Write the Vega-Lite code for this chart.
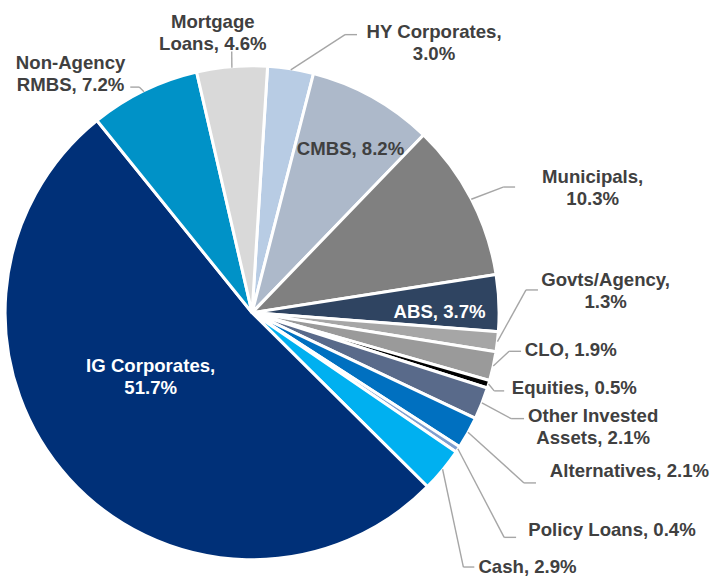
{
  "$schema": "https://vega.github.io/schema/vega-lite/v6.json",
  "width": 710,
  "height": 577,
  "autosize": {"type": "fit", "contains": "padding"},
  "padding": 0,
  "background": "white",
  "config": {
    "view": {"stroke": null},
    "axis": {"disable": true},
    "text": {"font": "Liberation Sans", "fontWeight": "bold", "fontSize": 18.6, "color": "#404040", "lineBreak": "\n", "lineHeight": 22, "align": "center", "baseline": "middle"},
    "rule": {"color": "#a6a6a6", "strokeWidth": 1.4}
  },
  "data": {
    "values": [
      {"category": "HY Corporates", "value": 3.0, "order": 1, "label": "HY Corporates,\n3.0%"},
      {"category": "CMBS", "value": 8.2, "order": 2, "label": "CMBS, 8.2%"},
      {"category": "Municipals", "value": 10.3, "order": 3, "label": "Municipals,\n10.3%"},
      {"category": "ABS", "value": 3.7, "order": 4, "label": "ABS, 3.7%"},
      {"category": "Govts/Agency", "value": 1.3, "order": 5, "label": "Govts/Agency,\n1.3%"},
      {"category": "CLO", "value": 1.9, "order": 6, "label": "CLO, 1.9%"},
      {"category": "Equities", "value": 0.5, "order": 7, "label": "Equities, 0.5%"},
      {"category": "Other Invested Assets", "value": 2.1, "order": 8, "label": "Other Invested\nAssets, 2.1%"},
      {"category": "Alternatives", "value": 2.1, "order": 9, "label": "Alternatives, 2.1%"},
      {"category": "Policy Loans", "value": 0.4, "order": 10, "label": "Policy Loans, 0.4%"},
      {"category": "Cash", "value": 2.9, "order": 11, "label": "Cash, 2.9%"},
      {"category": "IG Corporates", "value": 51.7, "order": 12, "label": "IG Corporates,\n51.7%"},
      {"category": "Non-Agency RMBS", "value": 7.2, "order": 13, "label": "Non-Agency\nRMBS, 7.2%"},
      {"category": "Mortgage Loans", "value": 4.6, "order": 14, "label": "Mortgage\nLoans, 4.6%"}
    ]
  },
  "transform": [
    {"window": [{"op": "sum", "field": "value", "as": "cumEnd"}], "sort": [{"field": "order"}], "frame": [null, 0]},
    {"calculate": "0.06283 + 2*PI*(datum.cumEnd - datum.value/2)/99.9", "as": "midAngle"},
    {"calculate": "1.01*sin(datum.midAngle)", "as": "edgeX"},
    {"calculate": "1.01*cos(datum.midAngle)", "as": "edgeY"}
  ],
  "layer": [
    {
      "mark": {"type": "arc", "radius": 247, "stroke": "white", "strokeWidth": 3},
      "encoding": {
        "x": {"datum": 0, "type": "quantitative", "scale": {"domain": [-1.0142, 1.872], "nice": false, "zero": false}},
        "y": {"datum": 0, "type": "quantitative", "scale": {"domain": [-1.061, 1.2846], "nice": false, "zero": false}},
        "theta": {"field": "value", "type": "quantitative", "stack": true, "scale": {"range": [0.06283, 6.34602]}},
        "order": {"field": "order", "type": "quantitative"},
        "color": {
          "field": "category", "type": "nominal", "legend": null,
          "scale": {
            "domain": ["HY Corporates", "CMBS", "Municipals", "ABS", "Govts/Agency", "CLO", "Equities", "Other Invested Assets", "Alternatives", "Policy Loans", "Cash", "IG Corporates", "Non-Agency RMBS", "Mortgage Loans"],
            "range": ["#b8cce4", "#adb9ca", "#808080", "#2f4461", "#a6a6a6", "#9a9a9a", "#000000", "#596a8a", "#0070c0", "#7f9fcf", "#00b0f0", "#003078", "#0092c7", "#d9d9d9"]
          }
        }
      }
    },
    {"transform": [{"filter": "datum.category == 'Mortgage Loans'"}], "mark": "rule", "encoding": {"x": {"field": "edgeX", "type": "quantitative"}, "y": {"field": "edgeY", "type": "quantitative"}, "x2": {"datum": -0.0833}, "y2": {"datum": 1.0732}}},
    {"transform": [{"filter": "datum.category == 'Non-Agency RMBS'"}], "mark": "rule", "encoding": {"x": {"field": "edgeX", "type": "quantitative"}, "y": {"field": "edgeY", "type": "quantitative"}, "x2": {"datum": -0.4614}, "y2": {"datum": 0.9268}}},
    {"transform": [{"filter": "datum.category == 'Non-Agency RMBS'"}], "mark": "rule", "encoding": {"x": {"datum": -0.4614}, "y": {"datum": 0.9268}, "x2": {"datum": -0.498}, "y2": {"datum": 0.9268}}},
    {"transform": [{"filter": "datum.category == 'HY Corporates'"}], "mark": "rule", "encoding": {"x": {"field": "edgeX", "type": "quantitative"}, "y": {"field": "edgeY", "type": "quantitative"}, "x2": {"datum": 0.3801}, "y2": {"datum": 1.1423}}},
    {"transform": [{"filter": "datum.category == 'HY Corporates'"}], "mark": "rule", "encoding": {"x": {"datum": 0.3801}, "y": {"datum": 1.1423}, "x2": {"datum": 0.4289}, "y2": {"datum": 1.1423}}},
    {"transform": [{"filter": "datum.category == 'Municipals'"}], "mark": "rule", "encoding": {"x": {"field": "edgeX", "type": "quantitative"}, "y": {"field": "edgeY", "type": "quantitative"}, "x2": {"datum": 1.0264}, "y2": {"datum": 0.5163}}},
    {"transform": [{"filter": "datum.category == 'Municipals'"}], "mark": "rule", "encoding": {"x": {"datum": 1.0264}, "y": {"datum": 0.5163}, "x2": {"datum": 1.0752}, "y2": {"datum": 0.5163}}},
    {"transform": [{"filter": "datum.category == 'Govts/Agency'"}], "mark": "rule", "encoding": {"x": {"field": "edgeX", "type": "quantitative"}, "y": {"field": "edgeY", "type": "quantitative"}, "x2": {"datum": 1.1199}, "y2": {"datum": 0.0935}}},
    {"transform": [{"filter": "datum.category == 'Govts/Agency'"}], "mark": "rule", "encoding": {"x": {"datum": 1.1199}, "y": {"datum": 0.0935}, "x2": {"datum": 1.1687}, "y2": {"datum": 0.0935}}},
    {"transform": [{"filter": "datum.category == 'CLO'"}], "mark": "rule", "encoding": {"x": {"field": "edgeX", "type": "quantitative"}, "y": {"field": "edgeY", "type": "quantitative"}, "x2": {"datum": 1.0508}, "y2": {"datum": -0.1585}}},
    {"transform": [{"filter": "datum.category == 'CLO'"}], "mark": "rule", "encoding": {"x": {"datum": 1.0508}, "y": {"datum": -0.1585}, "x2": {"datum": 1.0996}, "y2": {"datum": -0.1585}}},
    {"transform": [{"filter": "datum.category == 'Equities'"}], "mark": "rule", "encoding": {"x": {"field": "edgeX", "type": "quantitative"}, "y": {"field": "edgeY", "type": "quantitative"}, "x2": {"datum": 0.9898}, "y2": {"datum": -0.3211}}},
    {"transform": [{"filter": "datum.category == 'Equities'"}], "mark": "rule", "encoding": {"x": {"datum": 0.9898}, "y": {"datum": -0.3211}, "x2": {"datum": 1.0305}, "y2": {"datum": -0.3211}}},
    {"transform": [{"filter": "datum.category == 'Other Invested Assets'"}], "mark": "rule", "encoding": {"x": {"field": "edgeX", "type": "quantitative"}, "y": {"field": "edgeY", "type": "quantitative"}, "x2": {"datum": 1.0589}, "y2": {"datum": -0.435}}},
    {"transform": [{"filter": "datum.category == 'Other Invested Assets'"}], "mark": "rule", "encoding": {"x": {"datum": 1.0589}, "y": {"datum": -0.435}, "x2": {"datum": 1.1118}, "y2": {"datum": -0.435}}},
    {"transform": [{"filter": "datum.category == 'Alternatives'"}], "mark": "rule", "encoding": {"x": {"field": "edgeX", "type": "quantitative"}, "y": {"field": "edgeY", "type": "quantitative"}, "x2": {"datum": 1.1118}, "y2": {"datum": -0.6992}}},
    {"transform": [{"filter": "datum.category == 'Alternatives'"}], "mark": "rule", "encoding": {"x": {"datum": 1.1118}, "y": {"datum": -0.6992}, "x2": {"datum": 1.1606}, "y2": {"datum": -0.6992}}},
    {"transform": [{"filter": "datum.category == 'Policy Loans'"}], "mark": "rule", "encoding": {"x": {"field": "edgeX", "type": "quantitative"}, "y": {"field": "edgeY", "type": "quantitative"}, "x2": {"datum": 1.0305}, "y2": {"datum": -0.9228}}},
    {"transform": [{"filter": "datum.category == 'Policy Loans'"}], "mark": "rule", "encoding": {"x": {"datum": 1.0305}, "y": {"datum": -0.9228}, "x2": {"datum": 1.0793}, "y2": {"datum": -0.9228}}},
    {"transform": [{"filter": "datum.category == 'Cash'"}], "mark": "rule", "encoding": {"x": {"field": "edgeX", "type": "quantitative"}, "y": {"field": "edgeY", "type": "quantitative"}, "x2": {"datum": 0.8638}, "y2": {"datum": -1.0447}}},
    {"transform": [{"filter": "datum.category == 'Cash'"}], "mark": "rule", "encoding": {"x": {"datum": 0.8638}, "y": {"datum": -1.0447}, "x2": {"datum": 0.9085}, "y2": {"datum": -1.0447}}},
    {"transform": [{"filter": "datum.category == 'Mortgage Loans'"}], "mark": "text", "encoding": {"x": {"datum": -0.1606}, "y": {"datum": 1.1931}, "text": {"field": "label"}}},
    {"transform": [{"filter": "datum.category == 'Non-Agency RMBS'"}], "mark": "text", "encoding": {"x": {"datum": -0.7419}, "y": {"datum": 1.0264}, "text": {"field": "label"}}},
    {"transform": [{"filter": "datum.category == 'HY Corporates'"}], "mark": "text", "encoding": {"x": {"datum": 0.7439}, "y": {"datum": 1.1524}, "text": {"field": "label"}}},
    {"transform": [{"filter": "datum.category == 'CMBS'"}], "mark": "text", "encoding": {"x": {"datum": 0.4024}, "y": {"datum": 0.6728}, "text": {"field": "label"}}},
    {"transform": [{"filter": "datum.category == 'Municipals'"}], "mark": "text", "encoding": {"x": {"datum": 1.3923}, "y": {"datum": 0.5589}, "text": {"field": "label"}}},
    {"transform": [{"filter": "datum.category == 'ABS'"}], "mark": {"type": "text", "color": "white"}, "encoding": {"x": {"datum": 0.7663}, "y": {"datum": 0.002}, "text": {"field": "label"}}},
    {"transform": [{"filter": "datum.category == 'Govts/Agency'"}], "mark": "text", "encoding": {"x": {"datum": 1.4451}, "y": {"datum": 0.1362}, "text": {"field": "label"}}},
    {"transform": [{"filter": "datum.category == 'CLO'"}], "mark": "text", "encoding": {"x": {"datum": 1.3028}, "y": {"datum": -0.1524}, "text": {"field": "label"}}},
    {"transform": [{"filter": "datum.category == 'Equities'"}], "mark": "text", "encoding": {"x": {"datum": 1.3171}, "y": {"datum": -0.311}, "text": {"field": "label"}}},
    {"transform": [{"filter": "datum.category == 'Other Invested Assets'"}], "mark": "text", "encoding": {"x": {"datum": 1.3943}, "y": {"datum": -0.4248}, "text": {"field": "label"}}},
    {"transform": [{"filter": "datum.category == 'Alternatives'"}], "mark": "text", "encoding": {"x": {"datum": 1.5427}, "y": {"datum": -0.6484}, "text": {"field": "label"}}},
    {"transform": [{"filter": "datum.category == 'Policy Loans'"}], "mark": "text", "encoding": {"x": {"datum": 1.4715}, "y": {"datum": -0.8923}, "text": {"field": "label"}}},
    {"transform": [{"filter": "datum.category == 'Cash'"}], "mark": "text", "encoding": {"x": {"datum": 1.126}, "y": {"datum": -1.0427}, "text": {"field": "label"}}},
    {"transform": [{"filter": "datum.category == 'IG Corporates'"}], "mark": {"type": "text", "color": "white"}, "encoding": {"x": {"datum": -0.4146}, "y": {"datum": -0.2175}, "text": {"field": "label"}}}
  ]
}
